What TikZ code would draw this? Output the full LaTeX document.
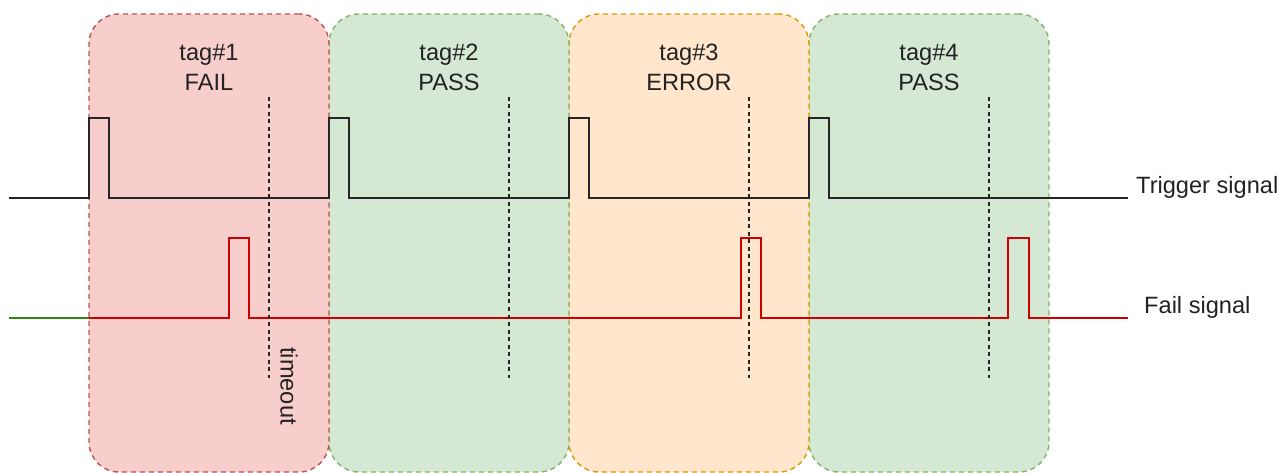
\documentclass[tikz,border=0pt]{standalone}
\usepackage{fontspec}
\setmainfont{Liberation Sans}
\definecolor{redfill}{HTML}{F8CECC}
\definecolor{redline}{HTML}{B85450}
\definecolor{greenfill}{HTML}{D5E8D4}
\definecolor{greenline}{HTML}{82B366}
\definecolor{orangefill}{HTML}{FFE6CC}
\definecolor{orangeline}{HTML}{D79B00}
\definecolor{failred}{HTML}{CC0000}
\definecolor{startgreen}{HTML}{2D8A0F}
\definecolor{txt}{HTML}{222222}
\begin{document}
\begin{tikzpicture}[x=1pt,y=-1pt,
  tagbox/.style={rectangle, rounded corners=30pt, line width=1.4pt,
    dash pattern=on 5pt off 4pt, minimum width=240pt, minimum height=458pt,
    inner sep=0pt, outer sep=0pt},
  lbl/.style={text=txt, font=\fontsize{23.6}{30}\selectfont, align=center, inner sep=0pt},
  sig/.style={line width=2.2pt, line join=miter},
  tmo/.style={line width=2.4pt, black!85, dash pattern=on 4pt off 3.5pt}]
\useasboundingbox (0,0) rectangle (1283,473);
% boxes (later ones underneath)
\node[tagbox, fill=greenfill, draw=greenline] (b4) at (929,243) {};
\node[tagbox, fill=orangefill, draw=orangeline] (b3) at (689,243) {};
\node[tagbox, fill=greenfill, draw=greenline] (b2) at (449,243) {};
\node[tagbox, fill=redfill, draw=redline] (b1) at (209,243) {};
% labels
\node[lbl] (l1) at (209,67) {tag\#1\\FAIL};
\node[lbl] (l2) at (449,67) {tag\#2\\PASS};
\node[lbl] (l3) at (689,67) {tag\#3\\ERROR};
\node[lbl] (l4) at (929,67) {tag\#4\\PASS};
% trigger signal
\coordinate (ts) at (9,198);
\coordinate (te) at (1128,198);
\draw[sig, black!85] (ts) -- (89,198) -- (89,118) -- (109,118) -- (109,198)
  -- (329,198) -- (329,118) -- (349,118) -- (349,198)
  -- (569,198) -- (569,118) -- (589,118) -- (589,198)
  -- (809,198) -- (809,118) -- (829,118) -- (829,198) -- (te);
\node[lbl, anchor=west] (tl) at (1136,187) {Trigger signal};
% fail signal
\coordinate (fs) at (9,318);
\coordinate (fm) at (89,318);
\coordinate (fe) at (1128,318);
\draw[sig, startgreen] (fs) -- (fm);
\draw[sig, failred] (fm) -- (229,318) -- (229,238) -- (249,238) -- (249,318)
  -- (741,318) -- (741,238) -- (761,238) -- (761,318)
  -- (1008,318) -- (1008,238) -- (1029,238) -- (1029,318) -- (fe);
\node[lbl, anchor=west] (fl) at (1144,307) {Fail signal};
% timeout lines
\foreach \x/\n in {269/1,509/2,749/3,989/4}{
  \coordinate (ta\n) at (\x,97);
  \coordinate (tb\n) at (\x,378);
  \draw[tmo] (ta\n) -- (tb\n);
}
\node[lbl, rotate=-90] (tout) at (289,386) {timeout};
\end{tikzpicture}
\end{document}
